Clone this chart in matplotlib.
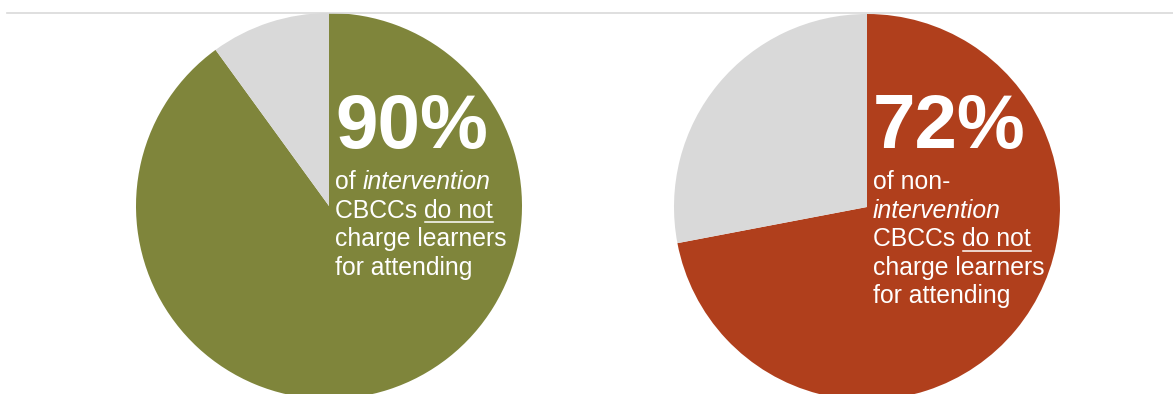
import matplotlib
matplotlib.use('Agg')
import matplotlib.pyplot as plt

plt.rcParams['font.family'] = ['Liberation Sans', 'DejaVu Sans']

W, H = 1173, 394

# share of centres that do not charge vs. the rest
no_charge = [90, 72]
charge = [10, 28]
big_labels = ['90%', '72%']
main_colors = ['#7F853B', '#B03F1C']
rest_color = '#D9D9D9'

# caption lines as runs of (text, style): i = italic, u = underlined
captions = [
    [[('of ', ''), ('intervention', 'i')],
     [('CBCCs ', ''), ('do not', 'u')],
     [('charge learners', '')],
     [('for attending', '')]],
    [[('of non-', '')],
     [('intervention', 'i')],
     [('CBCCs ', ''), ('do not', 'u')],
     [('charge learners', '')],
     [('for attending', '')]],
]

# pixel layout (y measured from top of the image)
centers = [(329, 206), (867, 207)]
radius = 193
text_x = [335, 873]
big_base = 148
line_base = 189
line_step = 28.5

fig = plt.figure(figsize=(W / 100, H / 100), dpi=100)
ax = fig.add_axes([0, 0, 1, 1])

for i in range(2):
    cx, cy = centers[i]
    ax.pie([no_charge[i], charge[i]], colors=[main_colors[i], rest_color],
           startangle=90, counterclock=False, center=(cx, H - cy),
           radius=radius, wedgeprops=dict(linewidth=0))

ax.set_xlim(0, W)
ax.set_ylim(0, H)
ax.set_aspect('auto')
ax.axis('off')

# thin rule along the top
ax.plot([7, W], [H - 12.5, H - 12.5], color='#D9D9D9', lw=1.2)

fig.canvas.draw()
r = fig.canvas.get_renderer()

sub = dict(fontsize=17.8, color='white', va='baseline', ha='left')


def text_width(s, **kw):
    t = ax.text(0, 0, s + '.', **kw)
    w = t.get_window_extent(r).width
    t.remove()
    d = ax.text(0, 0, '.', **kw)
    dw = d.get_window_extent(r).width
    d.remove()
    return w - dw


for i in range(2):
    x0 = text_x[i]
    ax.text(x0, H - big_base, big_labels[i], fontsize=55, fontweight='bold',
            color='white', va='baseline', ha='left')
    for k, runs in enumerate(captions[i]):
        y = H - (line_base + k * line_step)
        x = x0
        for s, style in runs:
            fs = 'italic' if 'i' in style else 'normal'
            ax.text(x, y, s, fontstyle=fs, **sub)
            w = text_width(s, fontstyle=fs, **sub)
            if 'u' in style:
                ax.plot([x + 1, x + w], [y - 4.5, y - 4.5], color='white', lw=1.1)
            x += w

fig.savefig('out.png', dpi=100)
